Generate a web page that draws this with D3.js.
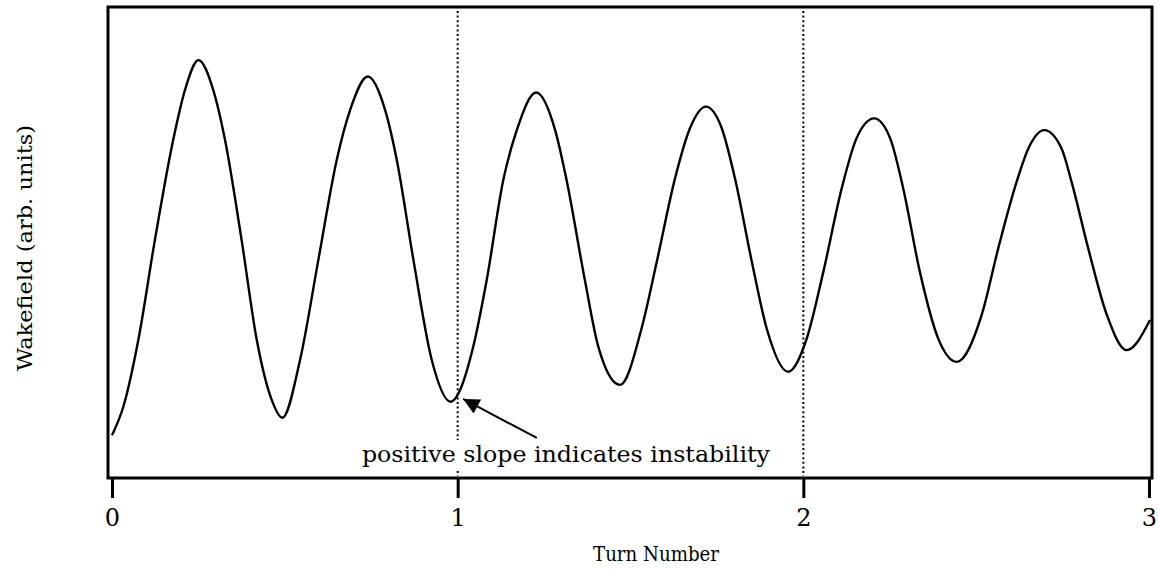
<!DOCTYPE html>
<html>
<head>
<meta charset="utf-8">
<script src="https://cdn.jsdelivr.net/npm/d3@7"></script>
<style>
  html, body { margin: 0; padding: 0; background: #fff; }
  svg { display: block; }
  text { font-family: "DejaVu Serif", "Liberation Serif", serif; fill: #000; }
</style>
</head>
<body>
<svg id="chart" width="1158" height="570"></svg>
<script>
// ---- data ----
const turns = [0.000,0.033,0.076,0.124,0.177,0.211,0.250,0.293,0.327,0.375,0.419,0.462,0.493,
  0.544,0.597,0.650,0.689,0.740,0.790,0.824,0.872,0.925,0.980,0.997,
  1.045,1.084,1.132,1.171,1.227,1.282,1.315,1.368,1.407,1.470,
  1.532,1.576,1.629,1.672,1.718,1.764,1.802,1.851,1.894,1.956,
  2.010,2.058,2.111,2.154,2.205,2.251,2.289,2.337,2.390,2.444,
  2.516,2.564,2.617,2.651,2.697,2.747,2.776,2.824,2.878,2.935,3.003];
const wakefield = [8.9,15.0,29.1,50.4,71.7,82.3,88.7,82.3,71.7,50.4,29.1,16.4,12.6,
  24.9,46.2,67.4,78.1,85.2,78.1,67.4,46.2,24.9,16.0,17.1,
  27.7,41.9,63.2,73.8,81.8,73.8,63.2,41.9,27.7,19.6,
  31.6,45.8,63.6,74.2,78.8,74.2,63.6,45.8,31.6,22.4,
  29.5,43.7,61.4,72.1,76.3,72.1,61.4,43.7,29.5,24.5,
  34.5,48.7,62.8,69.9,73.8,69.9,62.8,48.7,34.5,27.0,33.4];
const xTicks = [0, 1, 2, 3];
const markerTurns = [1, 2];
const xTitle = "Turn Number";
const yTitle = "Wakefield (arb. units)";
const noteText = "positive slope indicates instability";
const noteAnchor = [0.723, 3.2];      // text start (turn, value)
const arrowFrom = [1.229, 8.3];       // arrow tail (turn, value)
const arrowTo = [1.016, 16.6];        // arrow tip (turn, value)

// ---- layout ----
const svg = d3.select("#chart");
const box = {left: 108, right: 1152, top: 7, bottom: 478};
const x = d3.scaleLinear().domain([0, 3]).range([112, 1149]);
const y = d3.scaleLinear().domain([0, 100]).range([477, 7]);

// dotted markers
svg.append("g").selectAll("line").data(markerTurns).join("line")
  .attr("x1", d => x(d)).attr("x2", d => x(d))
  .attr("y1", box.top + 4).attr("y2", box.bottom - 2)
  .attr("stroke", "#000").attr("stroke-width", 2)
  .attr("stroke-dasharray", "2,2.6");

// curve
const pts = turns.map((t, i) => [t, wakefield[i]]);
svg.append("path").datum(pts)
  .attr("fill", "none").attr("stroke", "#000").attr("stroke-width", 2.4)
  .attr("stroke-linejoin", "round")
  .attr("d", d3.line().x(d => x(d[0])).y(d => y(d[1])).curve(d3.curveMonotoneX));

// frame
svg.append("rect")
  .attr("x", box.left).attr("y", box.top)
  .attr("width", box.right - box.left).attr("height", box.bottom - box.top)
  .attr("fill", "none").attr("stroke", "#000").attr("stroke-width", 3);

// x axis ticks + labels
const xAxis = d3.axisBottom(x).tickValues(xTicks).tickSize(20).tickPadding(11).tickFormat(d3.format("d"));
const gx = svg.append("g").attr("transform", `translate(0,${box.bottom})`).call(xAxis);
gx.attr("font-family", null).attr("font-size", null);
gx.select(".domain").remove();
gx.selectAll(".tick line").attr("stroke", "#000").attr("stroke-width", 3);
gx.selectAll(".tick text")
  .style("font-family", '"DejaVu Serif", serif')
  .style("font-size", "24px").attr("fill", "#000");

// axis titles
svg.append("text").attr("x", 656).attr("y", 561)
  .attr("text-anchor", "middle").style("font-size", "19.5px")
  .attr("textLength", 126).attr("lengthAdjust", "spacingAndGlyphs")
  .text(xTitle);
svg.append("text")
  .attr("transform", "translate(32,248) rotate(-90)")
  .attr("text-anchor", "middle").style("font-size", "21px")
  .attr("textLength", 246).attr("lengthAdjust", "spacingAndGlyphs")
  .text(yTitle);

// annotation
const nx = x(noteAnchor[0]), ny = y(noteAnchor[1]);
svg.append("rect").attr("x", nx - 2).attr("y", ny - 22).attr("width", 412).attr("height", 30).attr("fill", "#fff");
svg.append("text").attr("x", nx).attr("y", ny)
  .style("font-size", "23px")
  .attr("textLength", 408).attr("lengthAdjust", "spacingAndGlyphs")
  .text(noteText);

svg.append("defs").append("marker")
  .attr("id", "ah").attr("viewBox", "0 0 10 10")
  .attr("refX", 10).attr("refY", 5)
  .attr("markerWidth", 11).attr("markerHeight", 8)
  .attr("markerUnits", "strokeWidth")
  .attr("orient", "auto")
  .append("path").attr("d", "M0,0 L10,5 L0,10 Z").attr("fill", "#000");

svg.append("line")
  .attr("x1", x(arrowFrom[0])).attr("y1", y(arrowFrom[1]))
  .attr("x2", x(arrowTo[0])).attr("y2", y(arrowTo[1]))
  .attr("stroke", "#000").attr("stroke-width", 2)
  .attr("marker-end", "url(#ah)");
</script>
</body>
</html>
